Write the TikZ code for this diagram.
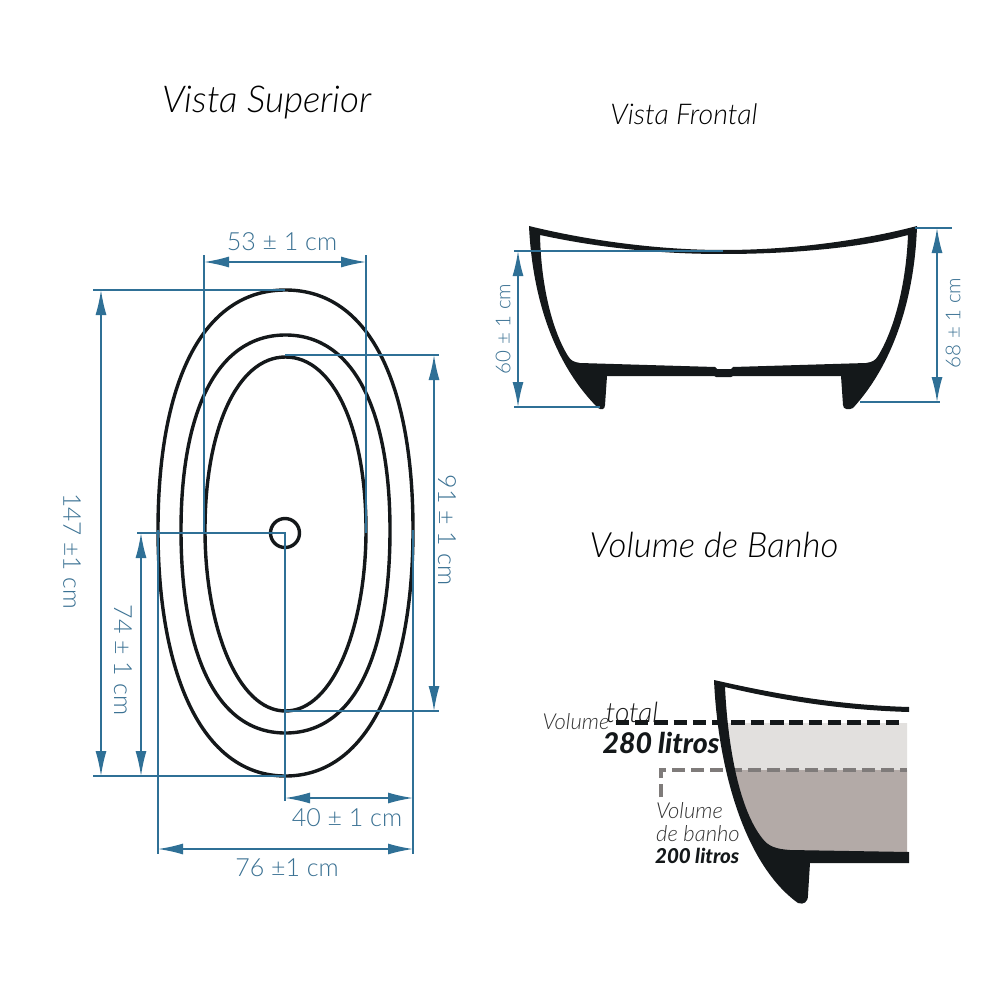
\documentclass[tikz,border=0pt]{standalone}
\usepackage{fontspec}
\usetikzlibrary{arrows.meta}
\setmainfont{Lato}[UprightFont=* Light,ItalicFont=* Light Italic,BoldFont=* Bold,BoldItalicFont=* Black Italic]
\definecolor{dimblue}{HTML}{2F7096}
\definecolor{dimtext}{HTML}{3A7193}
\definecolor{ink}{HTML}{14181A}
\definecolor{waterlight}{HTML}{E2E0DE}
\definecolor{waterdark}{HTML}{B3AAA7}
\definecolor{dashgrey}{HTML}{7F7B7A}
\tikzset{
  ring/.style={draw=ink,line width=3.4pt},
  ext/.style={draw=dimblue,line width=1.5pt},
  dimline/.style={draw=dimblue,line width=1.5pt,{Latex[length=25pt,width=11pt]}-{Latex[length=25pt,width=11pt]}},
  dimlabel/.style={text=dimtext,font=\fontsize{25}{27}\selectfont,inner sep=0pt},
  smalldim/.style={text=dimtext,font=\fontsize{20.5}{22}\selectfont,inner sep=0pt},
  viewtitle/.style={text=black,inner sep=0pt},
  bath/.style={fill=ink,even odd rule},
}
\begin{document}
\begin{tikzpicture}[x=1pt,y=-1pt]
\useasboundingbox (0,0) rectangle (1000,1000);
\fill[white] (0,0) rectangle (1000,1000);

% --- titles
\node[viewtitle,font=\fontsize{37}{39}\selectfont\itshape] (t1) at (267,103) {Vista Superior};
\node[viewtitle,font=\fontsize{28.6}{30}\selectfont\itshape] (t2) at (684,114) {Vista Frontal};
\node[viewtitle,font=\fontsize{34.8}{37}\selectfont\itshape] (t3) at (714,545) {Volume de Banho};

% --- top view
\draw[ring] (285.5,290) .. controls (370,290) and (413,385) .. (413,530)
  .. controls (413,670) and (371,776) .. (285.5,776)
  .. controls (200,776) and (158,670) .. (158,530)
  .. controls (158,385) and (201,290) .. (285.5,290) -- cycle;
\draw[ring] (285.5,335) .. controls (356,335) and (390,415) .. (390,530)
  .. controls (390,645) and (359,733) .. (285.5,733)
  .. controls (212,733) and (181,645) .. (181,530)
  .. controls (181,415) and (215,335) .. (285.5,335) -- cycle;
\draw[ring] (285.5,357) .. controls (334,357) and (366,430) .. (366,530)
  .. controls (366,625) and (334,711) .. (285.5,711)
  .. controls (237,711) and (205,625) .. (205,530)
  .. controls (205,430) and (237,357) .. (285.5,357) -- cycle;
\node[circle,draw=ink,line width=3.4pt,minimum size=29pt,inner sep=0pt] (drain) at (285,533) {};

% extension lines, top view
\draw[ext] (93,290) -- (285,290);
\draw[ext] (93,776) -- (285,776);
\draw[ext] (285,355) -- (439,355);
\draw[ext] (285,711) -- (439,711);
\draw[ext] (137,533) -- (285,533) -- (285,801);
\draw[ext] (158,530) -- (158,854);
\draw[ext] (413,530) -- (413,854);
\draw[ext] (204,255) -- (204,533);
\draw[ext] (366,255) -- (366,533);

% dimensions, top view
\draw[dimline] (204,262) -- (366,262);
\draw[dimline] (101,290) -- (101,776);
\draw[dimline] (141,533) -- (141,776);
\draw[dimline] (434,355) -- (434,711);
\draw[dimline] (285,798) -- (413,798);
\draw[dimline] (158,849) -- (413,849);

\node[dimlabel] (d53) at (282,242) {53 ± 1 cm};
\node[dimlabel,rotate=-90,font=\fontsize{24.5}{26}\selectfont] (d147) at (72,551) {147 ±1 cm};
\node[dimlabel,rotate=-90] (d74) at (123,660) {74 ± 1 cm};
\node[dimlabel,rotate=-90] (d91) at (447,530) {91 ± 1 cm};
\node[dimlabel] (d40) at (347,818) {40 ± 1 cm};
\node[dimlabel] (d76) at (287,868) {76 ±1 cm};

% --- front view
\path[bath]
  (529,226) .. controls (590,241) and (660,250) .. (723,250)
  .. controls (790,250) and (860,241) .. (917,226)
  .. controls (915,290) and (897,360) .. (853,408)
  .. controls (849,410) and (843,410) .. (843,405)
  -- (841,376) -- (733,376) -- (731,377) -- (716,377) -- (714,376) -- (607,376)
  -- (605,405) .. controls (605,410) and (601,410) .. (598,408)
  .. controls (550,360) and (532,290) .. (529,226) -- cycle
  (540,235) .. controls (600,248) and (660,254) .. (723,254)
  .. controls (790,254) and (860,248) .. (908,235)
  .. controls (906,285) and (894,330) .. (878,356)
  .. controls (875,361) and (872,362) .. (866,363)
  -- (733,367) -- (731,369) -- (717,369) -- (715,367)
  -- (580,363) .. controls (574,362) and (571,361) .. (568,356)
  .. controls (552,330) and (541,285) .. (540,235) -- cycle;

\draw[ext] (514,251) -- (723,251);
\draw[ext] (514,407) -- (600,407);
\draw[ext] (915,228) -- (952,228);
\draw[ext] (860,402) -- (940,402);
\draw[dimline] (518,251) -- (518,407);
\draw[dimline] (937,228) -- (937,402);
\node[smalldim,rotate=90] (d60) at (503,329) {60 ± 1 cm};
\node[smalldim,rotate=90] (d68) at (953,323) {68 ± 1 cm};

% --- volume view
\fill[waterlight] (724,723) -- (907,723) -- (907,770) -- (730,770) -- cycle;
\fill[waterdark] (730,770) -- (907,770) -- (907,852) -- (775,852) -- (755,835) -- cycle;
\draw[draw=ink,line width=5pt,dash pattern=on 13.5pt off 5.8pt] (615.6,722) -- (903,722);
\draw[draw=dashgrey,line width=4.5pt,dash pattern=on 13pt off 6pt] (661,797) -- (661,770) -- (907,770);
\path[bath]
  (714,680) .. controls (780,695) and (840,705) .. (909,707)
  -- (909,712) .. controls (840,710) and (780,700) .. (725,687)
  .. controls (728,750) and (740,810) .. (762,838)
  .. controls (768,846) and (775,849) .. (790,850)
  -- (909,852) -- (909,863) -- (810,863) -- (808,895)
  .. controls (808,902) and (804,905) .. (798,903)
  .. controls (745,865) and (718,770) .. (714,680) -- cycle;

\node[inner sep=0pt,text=black!80,font=\fontsize{22}{24}\selectfont\itshape] (v1) at (576,722) {Volume};
\node[inner sep=0pt,text=black!90,font=\fontsize{28}{30}\selectfont\itshape] (v2) at (632,712) {total};
\node[inner sep=0pt,text=ink,font=\fontsize{28.5}{30}\selectfont\bfseries\itshape] (v3) at (661,743) {280 litros};
\node[inner sep=0pt,anchor=west,text=black!80,font=\fontsize{22}{24}\selectfont\itshape] (v4) at (656,811) {Volume};
\node[inner sep=0pt,anchor=west,text=black!80,font=\fontsize{22}{24}\selectfont\itshape] (v5) at (656,834) {de banho};
\node[inner sep=0pt,anchor=west,text=ink,font=\fontsize{20.5}{22}\selectfont\bfseries\itshape] (v6) at (655,856) {200 litros};
\end{tikzpicture}
\end{document}
